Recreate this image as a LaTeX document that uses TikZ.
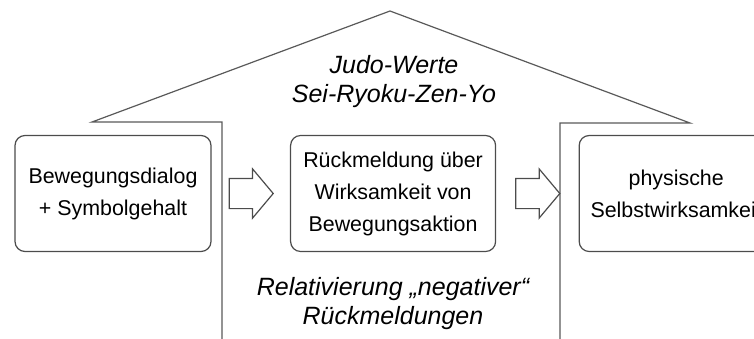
\documentclass[tikz,border=0pt]{standalone}
\usepackage{fontspec}
\setmainfont{Liberation Sans}
\usetikzlibrary{positioning,shapes.arrows}
\tikzset{
  box/.style  ={draw=black!70, rounded corners=5pt, line width=0.6pt, align=center,
                font=\fontsize{10.7}{16}\selectfont, minimum height=58pt},
  blk/.style  ={single arrow, draw=black!70, line width=0.6pt,
                inner xsep=0pt, inner ysep=7.25pt,
                minimum height=22pt, minimum width=24pt,
                single arrow head extend=4.75pt, single arrow tip angle=100},
  roof/.style ={draw=black!65, line width=0.6pt},
  motto/.style={font=\fontsize{12.5}{14.5}\selectfont\itshape, align=center},
}

\begin{document}
\begin{tikzpicture}[x=0.5pt, y=-0.5pt]
  \useasboundingbox (0,0) rectangle (754,338);
  \clip (0,0) rectangle (754,338);

  % house outline
  \coordinate (eaveL) at (92,122);
  \coordinate (apex)  at (390,11);
  \coordinate (eaveR) at (690,123);
  \draw[roof] (222,345) -- (222,122) -- (eaveL) -- (apex) -- (eaveR) -- (560,123) -- (560,345);

  \node[motto] (werte) at (394,82) {Judo-Werte\\Sei-Ryoku-Zen-Yo};

  % boxes and arrows
  \node[box, minimum width=98pt] (dialog) at (113,193.5)
        {Bewegungsdialog\\+ Symbolgehalt};
  \node[blk, right=8.5pt of dialog] (a1) {};
  \node[box, minimum width=102.5pt, right=8pt of a1] (feedback)
        {Rückmeldung über\\Wirksamkeit von\\Bewegungsaktion};
  \node[blk, right=9.5pt of feedback] (a2) {};
  \node[box, minimum width=97pt, right=9pt of a2] (selbst)
        {physische\\Selbstwirksamkeit};

  \node[motto] (relat) at (393,304) {Relativierung „negativer“\\Rückmeldungen};
\end{tikzpicture}
\end{document}
